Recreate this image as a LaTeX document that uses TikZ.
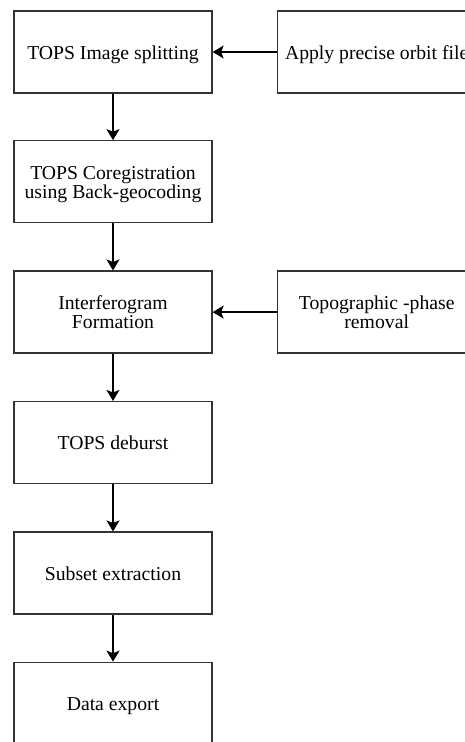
\documentclass[tikz,border=0pt]{standalone}
\usepackage{fontspec}
\setmainfont{Liberation Serif}
\usetikzlibrary{arrows.meta}
\definecolor{edge}{HTML}{333333}
\tikzset{
  stepbox/.style={draw=edge, line width=1.3pt, minimum width=198pt, minimum height=82pt,
    inner sep=0pt, align=center, font=\fontsize{19.7}{19}\selectfont, text=black},
  oneline/.style={text height=14pt, text depth=0pt},
  twoline/.style={text height=33.2pt, text depth=0pt},
  flow/.style={draw=black, line width=1.4pt, -{Stealth[length=11pt,width=13pt,inset=2.5pt]}}
}
\begin{document}
\begin{tikzpicture}[x=1pt,y=-1pt]
\useasboundingbox (0,0) rectangle (465,742);
\clip (0,0) rectangle (465,742);
\node[stepbox,oneline] (a) at (113,52) {TOPS Image splitting};
\node[stepbox,twoline] (b) at (113,181.8) {TOPS Coregistration\\using Back-geocoding};
\node[stepbox,twoline] (c) at (113,312.1) {Interferogram\\Formation};
\node[stepbox,oneline] (d) at (113,442.6) {TOPS deburst};
\node[stepbox,oneline] (e) at (113,573.1) {Subset extraction};
\node[stepbox,oneline] (f) at (113,703.3) {Data export};
\node[stepbox,oneline] (r1) at (376.7,52) {Apply precise orbit file};
\node[stepbox,twoline] (r2) at (376.7,312.1) {Topographic -phase\\removal};
\draw[flow] (a) -- (b);
\draw[flow] (b) -- (c);
\draw[flow] (c) -- (d);
\draw[flow] (d) -- (e);
\draw[flow] (e) -- (f);
\draw[flow] (r1) -- (a);
\draw[flow] (r2) -- (c);
\end{tikzpicture}
\end{document}
